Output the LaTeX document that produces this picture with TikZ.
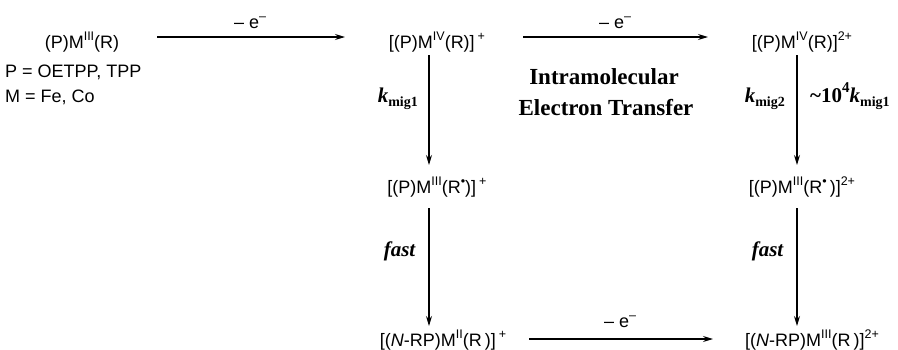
\documentclass[tikz,border=0pt]{standalone}
\usepackage{fontspec}
\setmainfont{Liberation Serif}
\newfontfamily\chemfont{Liberation Sans}
\usetikzlibrary{arrows.meta}
\newcommand{\sps}[1]{\raisebox{0.42em}{\fontsize{12.5}{12.5}\selectfont #1}}
\newcommand{\bsub}[1]{\raisebox{-0.22em}{\fontsize{14}{14}\selectfont #1}}
\newcommand{\bsup}[1]{\raisebox{0.45em}{\fontsize{15}{15}\selectfont #1}}
\begin{document}
\begin{tikzpicture}[x=1pt,y=-1pt,
  chem/.style={font=\chemfont\fontsize{18}{20}\selectfont, inner sep=0pt, anchor=base},
  note/.style={font=\chemfont\fontsize{18}{20}\selectfont, inner sep=0pt, anchor=base west},
  elbl/.style={font=\chemfont\fontsize{18}{20}\selectfont, inner sep=0pt, anchor=base},
  lbl/.style={font=\fontsize{21}{22}\selectfont\bfseries, inner sep=0pt, anchor=base east},
  rxn/.style={-{Stealth[length=10pt,width=6pt]}, line width=1.1pt},
]
\useasboundingbox (0,0) rectangle (898,349);

% species
\node[chem] (A) at (82,48) {(P)M\sps{III}(R)};
\node[note] (n1) at (5,77) {P = OETPP, TPP};
\node[note] (n2) at (5,102) {M = Fe, Co};
\node[chem] (B) at (437,48) {[(P)M\sps{IV}(R)]\,\sps{+}};
\node[chem] (C) at (802,48) {[(P)M\sps{IV}(R)]\sps{2+}};
\node[chem] (D) at (437,193) {[(P)M\sps{III}(R\sps{•})]\,\sps{+}};
\node[chem] (E) at (802,193) {[(P)M\sps{III}(R\sps{•}\,)]\sps{2+}};
\node[chem] (F) at (443,346) {[(\textit{N}-RP)M\sps{II}(R\,)]\,\sps{+}};
\node[chem] (G) at (812,346) {[(\textit{N}-RP)M\sps{III}(R\,)]\sps{2+}};

% horizontal arrows
\coordinate (h1s) at (157,37);
\coordinate (h1e) at (345,37);
\coordinate (h2s) at (523,37);
\coordinate (h2e) at (708,37);
\coordinate (h3s) at (529,339);
\coordinate (h3e) at (713,339);
\draw[rxn] (h1s) -- (h1e);
\draw[rxn] (h2s) -- (h2e);
\draw[rxn] (h3s) -- (h3e);
\node[elbl] (e1) at (250,28) {– e\sps{–}};
\node[elbl] (e2) at (615,28) {– e\sps{–}};
\node[elbl] (e3) at (620,327) {– e\sps{–}};

% vertical arrows
\coordinate (L1) at (429,55);
\coordinate (L2) at (429,165);
\coordinate (L3) at (429,208);
\coordinate (L4) at (429,326);
\coordinate (R1) at (797,55);
\coordinate (R2) at (797,165);
\coordinate (R3) at (797,208);
\coordinate (R4) at (797,326);
\draw[rxn] (L1) -- (L2);
\draw[rxn] (L3) -- (L4);
\draw[rxn] (R1) -- (R2);
\draw[rxn] (R3) -- (R4);

% labels
\node[lbl] (k1) at (418,102) {\textit{k}\bsub{mig1}};
\node[lbl] (k2) at (785,102) {\textit{k}\bsub{mig2}};
\node[lbl, anchor=base west] (k3) at (810,102) {\textasciitilde 10\bsup{4}\textit{k}\bsub{mig1}};
\node[lbl] (f1) at (416,256) {\textit{fast}};
\node[lbl] (f2) at (784,256) {\textit{fast}};
\node[font=\fontsize{23}{25}\selectfont\bfseries, inner sep=0pt, anchor=base] (iet1) at (604,84) {Intramolecular};
\node[font=\fontsize{23}{25}\selectfont\bfseries, inner sep=0pt, anchor=base] (iet2) at (606,115) {Electron Transfer};
\end{tikzpicture}
\end{document}
